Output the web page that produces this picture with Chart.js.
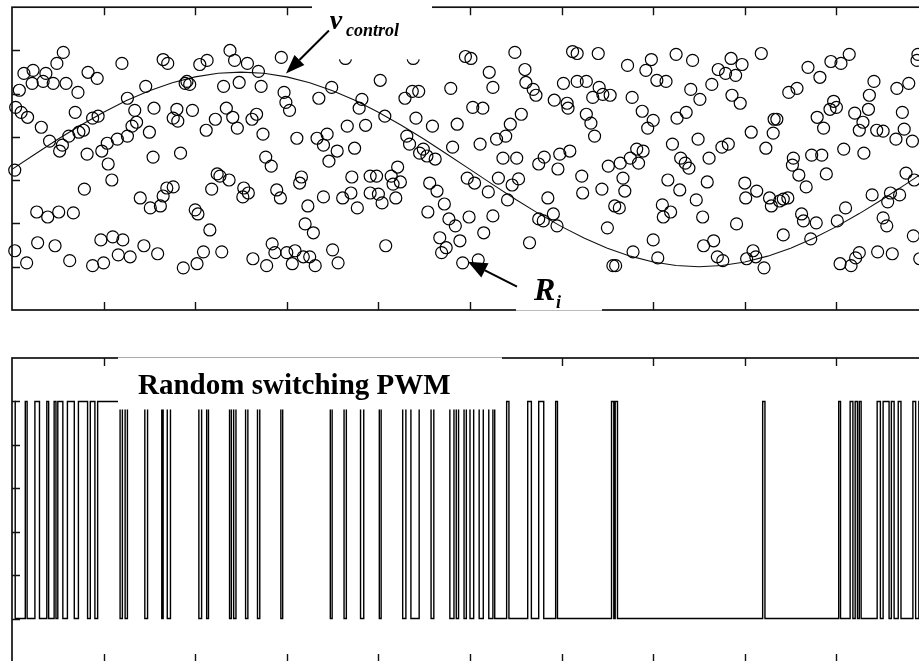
<!DOCTYPE html>
<html>
<head>
<meta charset="utf-8">
<script src="https://cdn.jsdelivr.net/npm/chart.js@4/dist/chart.umd.min.js"></script>
<style>
html,body{margin:0;padding:0;background:#fff;overflow:hidden;}
#wrap{position:relative;width:919px;height:661px;overflow:hidden;background:#fff;}
.panel{position:absolute;left:0;width:940px;height:320px;}
</style>
</head>
<body>
<div id="wrap">
  <div class="panel" style="top:0"><canvas id="cTop" width="940" height="320"></canvas></div>
  <div class="panel" style="top:352px"><canvas id="cBot" width="940" height="320"></canvas></div>
</div>
<script>
// ---- axis ticks ----
const xTicks = [0.1,0.2,0.3,0.4,0.5,0.6,0.7,0.8,0.9];
const yTicks = [0,0.2,0.4,0.6,0.8,1.0];

// ---- control signal v_control (sampled) ----
const vX = [0,0.025,0.05,0.075,0.1,0.125,0.15,0.175,0.2,0.225,0.25,0.275,0.3,0.325,0.35,0.375,0.4,0.425,0.45,0.475,
            0.5,0.525,0.55,0.575,0.6,0.625,0.65,0.675,0.7,0.725,0.75,0.775,0.8,0.825,0.85,0.875,0.9,0.925,0.95,0.975,1.0];
const vControl = [0.45,0.5204,0.5891,0.6543,0.7145,0.7682,0.8141,0.8510,0.8780,0.8945,0.9,0.8945,0.8780,0.8510,0.8141,0.7682,0.7145,0.6543,0.5891,0.5204,
                  0.45,0.3796,0.3109,0.2457,0.1855,0.1318,0.0859,0.0490,0.0220,0.0055,0,0.0055,0.0220,0.0490,0.0859,0.1318,0.1855,0.2457,0.3109,0.3796,0.45];

// ---- random samples R_i (time, value) ----
const sampleX = [
.003,.003,.004,.008,.010,.013,.016,.017,.022,.023,
.027,.028,.032,.034,.037,.039,.041,.045,.047,.049,
.051,.052,.055,.056,.059,.062,.063,.067,.069,.072,
.073,.078,.079,.082,.083,.088,.088,.093,.094,.097,
.098,.100,.104,.105,.109,.110,.115,.116,.120,.121,
.126,.126,.129,.131,.134,.136,.140,.144,.146,.150,
.151,.154,.155,.159,.162,.165,.165,.169,.170,.176,
.176,.180,.181,.184,.187,.189,.191,.194,.197,.200,
.202,.203,.205,.209,.212,.213,.216,.218,.222,.224,
.227,.229,.231,.234,.237,.238,.241,.243,.246,.248,
.252,.253,.257,.258,.262,.263,.267,.269,.272,.274,
.277,.278,.283,.284,.287,.289,.293,.294,.297,.299,
.300,.303,.306,.309,.311,.314,.316,.318,.320,.323,
.325,.329,.331,.333,.335,.340,.340,.344,.346,.349,
.350,.355,.356,.361,.364,.366,.370,.371,.374,.377,
.379,.382,.386,.391,.391,.398,.400,.402,.404,.407,
.408,.414,.416,.419,.421,.424,.429,.431,.434,.437,
.438,.441,.444,.445,.449,.453,.454,.456,.459,.462,
.464,.467,.469,.472,.474,.477,.479,.481,.484,.486,
.489,.492,.495,.497,.499,.501,.503,.505,.509,.511,
.514,.515,.520,.521,.525,.525,.529,.531,.536,.539,
.541,.544,.546,.549,.551,.553,.556,.560,.561,.565,
.569,.572,.575,.575,.580,.581,.585,.591,.592,.595,
.596,.598,.602,.606,.607,.609,.612,.617,.617,.622,
.623,.627,.627,.632,.634,.636,.640,.641,.644,.645,
.650,.651,.653,.656,.658,.659,.663,.664,.667,.669,
.672,.675,.677,.678,.682,.684,.688,.689,.692,.694,
.698,.700,.700,.704,.705,.710,.711,.714,.716,.719,
.721,.725,.726,.729,.730,.735,.736,.739,.741,.743,
.747,.749,.751,.754,.755,.759,.761,.764,.766,.770,
.771,.775,.776,.779,.782,.785,.786,.790,.791,.795,
.797,.800,.801,.802,.807,.809,.812,.813,.818,.821,
.823,.827,.829,.831,.832,.835,.838,.842,.842,.847,
.848,.852,.853,.857,.859,.862,.864,.867,.869,.872,
.873,.878,.879,.882,.884,.886,.889,.893,.894,.897,
.900,.901,.904,.905,.908,.910,.914,.916,.920,.921,
.925,.925,.929,.930,.935,.936,.939,.941,.944,.945,
.951,.951,.955,.956,.959,.961,.965,.966,.969,.972,
.974,.976,.979,.983,.984,.985,.988,.989,.991];

const randomR = [
.447,.074,.737,.816,.714,.894,.018,.691,.848,.908,
.253,.111,.645,.857,.894,.230,.581,.848,.097,.940,
.253,.535,.562,.991,.848,.604,.028,.249,.714,.806,
.622,.631,.359,.521,.899,.687,.005,.871,.696,.124,
.535,.018,.571,.475,.401,.138,.590,.055,.940,.124,
.779,.604,.046,.650,.723,.668,.318,.097,.834,.622,
.272,.507,.733,.060,.281,.958,.327,.364,.940,.687,
.369,.728,.673,.525,-.005,.848,.857,.843,.723,.263,
.014,.244,.935,.069,.631,.954,.170,.359,.682,.429,
.419,.069,.834,.733,.401,1.000,.691,.954,.641,.852,
.323,.364,.940,.341,.682,.037,.705,.903,.834,.613,
.507,.005,.465,.106,.065,.355,.318,.968,.806,.760,
.065,.723,.014,.074,.594,.387,.415,.046,.198,.281,
.046,.157,.005,.594,.779,.562,.323,.613,.488,.829,
.078,.535,.018,.318,.963,.650,.341,.415,.548,.272,
.733,.774,.654,.419,.341,.419,.336,.862,.295,.696,
.097,.419,.382,.318,.461,.392,.779,.604,.567,.811,
.963,.687,.811,.525,.544,.512,.253,.387,.650,.498,
.350,.134,.065,.290,.088,.221,.825,.553,.189,.659,
.120,.018,.972,.410,.230,.963,.737,.387,.032,.567,
.733,.157,.346,.899,.829,.235,.590,.410,.502,.604,
.309,.659,.378,.991,.502,.406,.705,.912,.852,.111,
.820,.793,.475,.221,.212,.507,.318,.244,.770,.189,
.452,.521,.848,.756,.733,.535,.995,.986,.857,.419,
.341,.857,.705,.664,.783,.604,.986,.829,.359,.797,
.180,.465,.793,.005,.281,.005,.272,.479,.410,.350,
.931,.502,.783,.069,.544,.479,.719,.535,.908,.641,
.958,.677,.124,.862,.041,.286,.230,.857,.401,.253,
.567,.982,.687,.355,.502,.479,.714,.456,.820,.954,
.309,.590,.774,.230,.097,.392,.502,.843,.120,.046,
.912,.553,.028,.894,.567,.963,.793,.885,.198,.756,
.935,.387,.318,.037,.622,.074,.046,.350,.986,-.005,
.548,.318,.281,.618,.682,.682,.304,.313,.147,.318,
.806,.470,.502,.825,.424,.244,.212,.369,.922,.129,
.516,.203,.691,.876,.516,.641,.429,.728,.949,.765,
.737,.212,.014,.940,.544,.272,.982,.005,.710,.041,
.631,.065,.668,.525,.728,.793,.332,.857,.631,.069,
.627,.226,.189,.300,.341,.060,.590,.825,.332,.714,
.636,.433,.848,.581,.143,.401,.954,.982,.037];

// ---- random switching PWM output (1 = on, 0 = off) at each sample ----
const pwm = [
1,1,0,0,0,0,1,0,0,0,
1,1,0,0,0,1,0,0,1,0,
1,1,1,0,0,1,1,1,0,0,
1,1,1,1,0,1,1,0,1,1,
1,1,1,1,1,1,1,1,0,1,
0,1,1,1,1,1,1,1,0,1,
1,1,1,1,1,0,1,1,0,1,
1,1,1,1,1,1,1,1,1,1,
1,1,0,1,1,0,1,1,1,1,
1,1,1,1,1,0,1,0,1,1,
1,1,0,1,1,1,1,0,1,1,
1,1,1,1,1,1,1,0,1,1,
1,1,1,1,1,1,1,1,1,1,
1,1,1,1,1,1,1,1,1,0,
1,1,1,1,0,1,1,1,1,1,
1,0,1,1,1,1,1,0,1,1,
1,1,1,1,1,1,0,1,1,0,
0,0,0,1,1,1,1,1,0,1,
1,1,1,1,1,1,0,0,1,0,
1,1,0,1,1,0,0,1,1,0,
0,1,1,0,0,1,0,0,0,0,
1,0,0,0,0,0,0,0,0,1,
0,0,0,1,1,0,0,0,0,1,
0,0,0,0,0,0,0,0,0,0,
0,0,0,0,0,0,0,0,0,0,
0,0,0,1,0,1,0,0,0,0,
0,0,0,0,0,0,0,0,0,0,
0,0,0,0,0,0,0,0,0,0,
0,0,0,0,0,0,0,0,0,0,
0,0,0,0,0,0,0,0,0,0,
0,0,0,0,0,0,0,0,0,0,
0,0,0,0,0,0,0,0,0,1,
0,0,0,0,0,0,0,0,0,0,
0,0,0,0,0,0,0,0,0,0,
0,0,0,0,0,0,0,0,0,0,
0,0,1,0,0,0,0,1,0,1,
0,1,0,0,0,0,0,0,0,1,
0,1,1,1,0,1,0,0,1,0,
0,0,0,0,1,1,0,0,1];

const SERIF = "'Liberation Serif','Times New Roman',Times,serif";

// frame + inward MATLAB-style ticks
const framePlugin = {
  id: 'frame',
  afterDatasetsDraw(chart) {
    const {ctx, chartArea: a, scales: {x, y}} = chart;
    ctx.save();
    ctx.strokeStyle = '#111';
    ctx.lineWidth = 1.7;
    ctx.strokeRect(a.left, a.top, a.right - a.left, a.bottom - a.top);
    ctx.lineWidth = 1.4;
    ctx.beginPath();
    xTicks.forEach(v => {
      const px = Math.round(x.getPixelForValue(v)) + 0.5;
      ctx.moveTo(px, a.top); ctx.lineTo(px, a.top + 8);
      ctx.moveTo(px, a.bottom); ctx.lineTo(px, a.bottom - 8);
    });
    yTicks.forEach(v => {
      const py = Math.round(y.getPixelForValue(v)) + 0.5;
      ctx.moveTo(a.left, py); ctx.lineTo(a.left + 8, py);
      ctx.moveTo(a.right, py); ctx.lineTo(a.right - 8, py);
    });
    ctx.stroke();
    ctx.restore();
  }
};

function arrow(ctx, x0, y0, x1, y1, len, half) {
  const ang = Math.atan2(y1 - y0, x1 - x0);
  const c = Math.cos(ang), s = Math.sin(ang);
  const bx = x1 - len * c, by = y1 - len * s;
  ctx.lineWidth = 2;
  ctx.beginPath(); ctx.moveTo(x0, y0); ctx.lineTo(bx, by); ctx.stroke();
  ctx.beginPath();
  ctx.moveTo(x1, y1);
  ctx.lineTo(bx - half * s, by + half * c);
  ctx.lineTo(bx + half * s, by - half * c);
  ctx.closePath(); ctx.fill();
}

const topNotes = {
  id: 'topNotes',
  afterDraw(chart) {
    const {ctx, scales: {x, y}} = chart;
    const X = v => x.getPixelForValue(v), Y = v => y.getPixelForValue(v);
    ctx.save();
    // label boxes
    ctx.fillStyle = '#fff';
    ctx.fillRect(X(.3275), Y(1.226), X(.4585) - X(.3275), Y(.959) - Y(1.226));
    ctx.fillRect(X(.5502), Y(.0645), X(.6441) - X(.5502), Y(-.2396) - Y(.0645));
    ctx.strokeStyle = '#bbb'; ctx.lineWidth = 1;
    ctx.beginPath(); ctx.moveTo(X(.5502), Math.round(Y(-.2)) + 0.5); ctx.lineTo(X(.6441), Math.round(Y(-.2)) + 0.5); ctx.stroke();
    // v_control
    ctx.fillStyle = '#000'; ctx.strokeStyle = '#000';
    ctx.textBaseline = 'alphabetic'; ctx.textAlign = 'left';
    ctx.font = 'italic bold 28px ' + SERIF;
    ctx.fillText('v', X(.347), Y(1.101));
    ctx.font = 'italic bold 18px ' + SERIF;
    ctx.fillText('control', X(.3646), Y(1.065));
    arrow(ctx, X(.346), Y(1.092), X(.2991), Y(.894), 19, 7);
    // R_i
    ctx.font = 'italic bold 32px ' + SERIF;
    ctx.fillText('R', X(.5699), Y(-.152));
    ctx.font = 'italic bold 18px ' + SERIF;
    ctx.fillText('i', X(.5939), Y(-.189));
    arrow(ctx, X(.5513), Y(-.0922), X(.4978), Y(.023), 19, 8);
    ctx.restore();
  }
};

const botNotes = {
  id: 'botNotes',
  afterDraw(chart) {
    const {ctx, scales: {x, y}} = chart;
    const X = v => x.getPixelForValue(v), Y = v => y.getPixelForValue(v);
    ctx.save();
    ctx.fillStyle = '#fff';
    ctx.fillRect(X(.1157), Y(1.2396), X(.5349) - X(.1157), Y(.9630) - Y(1.2396));
    ctx.strokeStyle = '#aaa'; ctx.lineWidth = 1;
    const ty = Math.round(Y(1.2)) - 0.5;
    ctx.beginPath(); ctx.moveTo(X(.1157), ty); ctx.lineTo(X(.5349), ty); ctx.stroke();
    ctx.fillStyle = '#000';
    ctx.font = 'bold 29px ' + SERIF;
    ctx.textBaseline = 'alphabetic'; ctx.textAlign = 'left';
    ctx.fillText('Random switching PWM', X(.1376), Y(1.032));
    ctx.restore();
  }
};

const baseScales = {
  x: {type: 'linear', min: 0, max: 1, display: false},
  y: {type: 'linear', min: -0.2, max: 1.2, display: false}
};
const baseOpts = {
  responsive: false,
  animation: false,
  events: [],
  layout: {padding: {left: 12, top: 6, right: 12, bottom: 10}},
  plugins: {legend: {display: false}, tooltip: {enabled: false}, title: {display: false}},
  scales: baseScales
};

new Chart(document.getElementById('cTop'), {
  type: 'scatter',
  data: {
    datasets: [
      {
        label: 'R_i',
        data: sampleX.map((t, i) => ({x: t, y: randomR[i]})),
        pointStyle: 'circle',
        pointRadius: 6,
        pointBorderWidth: 1.2,
        pointBorderColor: '#000',
        pointBackgroundColor: 'rgba(0,0,0,0)',
        showLine: false,
        clip: false
      },
      {
        label: 'v_control',
        type: 'line',
        data: vX.map((t, i) => ({x: t, y: vControl[i]})),
        borderColor: '#111',
        borderWidth: 1.1,
        pointRadius: 0,
        tension: 0,
        fill: false
      }
    ]
  },
  options: baseOpts,
  plugins: [framePlugin, topNotes]
});

new Chart(document.getElementById('cBot'), {
  type: 'line',
  data: {
    datasets: [{
      label: 'PWM',
      data: sampleX.map((t, i) => ({x: t, y: pwm[i]})),
      stepped: 'middle',
      borderColor: '#000',
      borderWidth: 1.4,
      pointRadius: 0,
      fill: false
    }]
  },
  options: baseOpts,
  plugins: [framePlugin, botNotes]
});
</script>
</body>
</html>
